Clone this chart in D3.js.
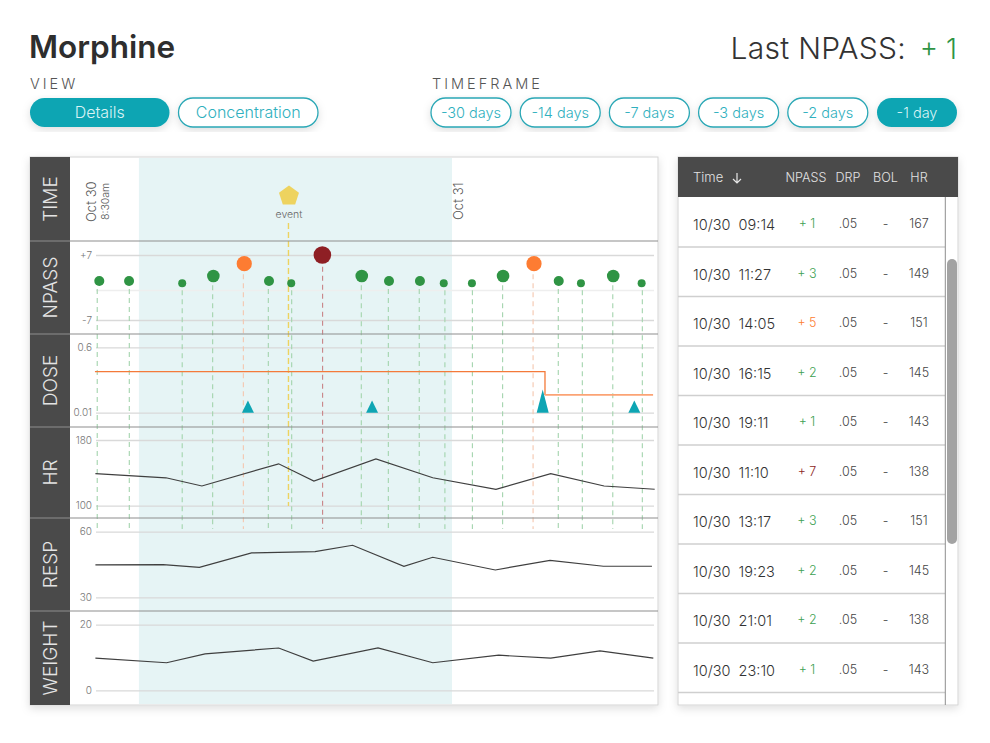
<!DOCTYPE html>
<html>
<head>
<meta charset="utf-8">
<title>Morphine</title>
<script src="https://cdn.jsdelivr.net/npm/d3@7"></script>
<style>
  body { margin: 0; background: #fff; }
  text { font-family: Inter, "Open Sans", sans-serif; }
  .tick line { stroke: #d9d9d9; }
  .tick text { fill: #777; font-size: 10px; font-weight: 300; }
</style>
</head>
<body>
<div id="chart"></div>
<script>
// all times are hours counted from midnight on Oct 30 (so 24 = Oct 31)
var npassTimes = [8.60, 9.90, 12.22, 13.58, 14.93, 16.01, 16.98, 18.34, 20.06, 21.25, 22.60, 23.64, 24.87, 26.23, 27.58, 28.66, 29.63, 31.04, 32.28];
var npassValues = [2, 2, 1, 3, 5, 2, 1, 7, 3, 2, 2, 1, 1, 3, 5, 2, 1, 3, 1];
var stemTimes = [8.51, 9.91, 12.22, 13.55, 14.89, 15.98, 17.00, 18.35, 20.04, 21.22, 22.57, 23.69, 24.89, 26.21, 27.54, 28.64, 29.69, 31.02, 32.31];

var doseTimes = [8.41, 28.06, 32.78];
var doseValues = [0.38, 0.17, 0.17];
var bolusTimes = [15.09, 20.51, 27.96, 31.96];
var bolusValues = [0.12, 0.12, 0.22, 0.12];

var hrTimes = [8.43, 11.51, 13.08, 16.43, 17.97, 20.68, 23.16, 25.92, 28.31, 30.64, 32.85];
var hrValues = [139, 134, 124, 151, 130, 157, 134, 120, 139, 124, 120];
var respTimes = [8.43, 11.39, 12.97, 15.25, 18.02, 19.66, 21.90, 23.16, 25.89, 28.28, 30.61, 32.73];
var respValues = [44.8, 44.9, 43.7, 50.3, 50.9, 53.8, 44.2, 48.3, 42.5, 46.9, 44.2, 44.2];
var weightTimes = [8.43, 11.54, 13.22, 16.43, 17.94, 20.77, 23.16, 26.04, 28.31, 30.46, 32.79];
var weightValues = [9.8, 8.4, 11.1, 12.9, 8.9, 12.9, 8.4, 10.7, 9.8, 12, 9.8];

var shadeStart = 10.33, shadeEnd = 24, eventTime = 16.86;

var rowLabels = ["TIME", "NPASS", "DOSE", "HR", "RESP", "WEIGHT"];
var viewButtons = ["Details", "Concentration"];
var frameButtons = ["-30 days", "-14 days", "-7 days", "-3 days", "-2 days", "-1 day"];

var tableTimes = ["09:14", "11:27", "14:05", "16:15", "19:11", "11:10", "13:17", "19:23", "21:01", "23:10"];
var tableNpass = [1, 3, 5, 2, 1, 7, 3, 2, 2, 1];
var tableHr = [167, 149, 151, 145, 143, 138, 151, 145, 138, 143];

var DARK = "#4a4a4a", TEAL = "#0ea5b3", GREEN = "#2f9444", ORANGE = "#fd7c32", RED = "#8e1f24";

var svg = d3.select("#chart").append("svg")
    .attr("width", 990).attr("height", 743)
    .style("display", "block");

// soft shadow used on the buttons and both panels
var defs = svg.append("defs");
defs.append("filter").attr("id", "shadow").attr("x", "-10%").attr("y", "-10%").attr("width", "120%").attr("height", "125%")
    .append("feDropShadow").attr("dx", 0).attr("dy", 3).attr("stdDeviation", 4).attr("flood-color", "#000").attr("flood-opacity", 0.13);

function label(parent, x, y, str, size, color, anchor, weight) {
    return parent.append("text")
        .attr("x", x).attr("y", y)
        .attr("font-size", size)
        .attr("fill", color)
        .attr("text-anchor", anchor || "start")
        .attr("font-weight", weight || 400)
        .text(str);
}

/* ---- header ---- */
label(svg, 29, 58, "Morphine", 31.5, "#2e2e2e", "start", 600);
label(svg, 906, 59, "Last NPASS:", 30, "#333", "end", 300).attr("letter-spacing", 0.3);
label(svg, 957, 59, "+ 1", 28, GREEN, "end", 300);
label(svg, 30, 89, "VIEW", 14.5, "#555", "start", 300).attr("letter-spacing", 3);
label(svg, 432, 89, "TIMEFRAME", 14.5, "#555", "start", 300).attr("letter-spacing", 3);

function drawButtons(names, lefts, width, activeName, fontSize) {
    var g = svg.append("g").selectAll("g").data(names).join("g")
        .attr("transform", function(d, i) { return "translate(" + lefts[i] + ",98)"; });
    g.append("rect")
        .attr("width", width).attr("height", 29).attr("rx", 14.5)
        .attr("fill", function(d) { return d === activeName ? TEAL : "#fff"; })
        .attr("stroke", function(d) { return d === activeName ? "none" : "#2aa7b5"; })
        .attr("stroke-width", 1.3)
        .attr("filter", "url(#shadow)");
    g.append("text")
        .attr("x", width / 2).attr("y", 20)
        .attr("text-anchor", "middle")
        .attr("font-size", fontSize)
        .attr("font-weight", 300)
        .attr("fill", function(d) { return d === activeName ? "#d9f3f5" : "#2fb0be"; })
        .text(function(d) { return d; });
}
drawButtons(viewButtons, d3.range(30, 200, 148.5), 139.5, "Details", 16);
drawButtons(frameButtons, d3.range(431, 900, 89.2), 80, "-1 day", 14.5);

/* ---- chart panel ---- */
var x = d3.scaleLinear().domain([8.5, 24]).range([97, 452]);
var gridLeft = 96, gridRight = 654;
var rowEdges = [157, 241, 334, 427, 518, 611, 705];

svg.append("rect").attr("x", 30).attr("y", 157).attr("width", 628).attr("height", 548)
    .attr("fill", "#fff").attr("stroke", "#d4d4d4").attr("filter", "url(#shadow)");
svg.append("rect").attr("x", x(shadeStart)).attr("y", 158)
    .attr("width", x(shadeEnd) - x(shadeStart)).attr("height", 546)
    .attr("fill", "#e6f4f5");
svg.append("rect").attr("x", 30).attr("y", 157).attr("width", 40).attr("height", 548).attr("fill", DARK);

// y scales. npass is not quite even on the picture so it gets a stepped domain
var yNpass = d3.scaleLinear().domain([-7, 0, 1, 2, 3, 5, 7]).range([320, 290, 283.3, 281, 276, 263.7, 255]);
var rNpass = d3.scaleLinear().domain([1, 2, 3, 5, 7]).range([4, 5, 6.3, 7.6, 8.8]);
var yDose = d3.scaleLinear().domain([0.01, 0.6]).range([412.7, 347.3]);
var yHr = d3.scaleLinear().domain([100, 180]).range([505.7, 440]);
var yResp = d3.scaleLinear().domain([30, 60]).range([597.3, 531.7]);
var yWeight = d3.scaleLinear().domain([0, 20]).range([690.3, 624.7]);

function drawAxis(scale, ticks, fmt) {
    var g = svg.append("g")
        .attr("transform", "translate(" + gridLeft + ",0)")
        .call(d3.axisLeft(scale).tickValues(ticks).tickFormat(fmt)
            .tickSize(-(gridRight - gridLeft)).tickPadding(4));
    g.select(".domain").remove();
    g.selectAll(".tick line").attr("stroke-width", 1.3);
    return g;
}
var npassAxis = drawAxis(yNpass, [-7, 0, 7], function(d) { return d === 0 ? "" : (d > 0 ? "+" + d : d); });
npassAxis.selectAll(".tick line").filter(function(d) { return d === 0; }).style("stroke", "#eeeeee");
drawAxis(yDose, [0.01, 0.6], function(d) { return d; });
drawAxis(yHr, [100, 180], function(d) { return d; });
drawAxis(yResp, [30, 60], function(d) { return d; });
drawAxis(yWeight, [0, 20], function(d) { return d; });

function npassColor(v) { return v >= 7 ? RED : v >= 5 ? ORANGE : GREEN; }
function stemColor(v) { return v >= 7 ? "#c98487" : v >= 5 ? "#f4c6ae" : "#a3d4ad"; }

// dashed drop lines under each npass reading
svg.append("g").selectAll("line").data(stemTimes).join("line")
    .attr("x1", function(d) { return x(d); })
    .attr("x2", function(d) { return x(d); })
    .attr("y1", function(d, i) { return yNpass(npassValues[i]) + rNpass(npassValues[i]) + 3; })
    .attr("y2", 529)
    .attr("stroke", function(d, i) { return stemColor(npassValues[i]); })
    .attr("stroke-width", 1.1)
    .attr("stroke-dasharray", "5 4");

// event marker
svg.append("line")
    .attr("x1", x(eventTime)).attr("x2", x(eventTime)).attr("y1", 223).attr("y2", 506)
    .attr("stroke", "#eed35f").attr("stroke-width", 1.4).attr("stroke-dasharray", "6 3");
var pentagon = d3.lineRadial().curve(d3.curveLinearClosed);
svg.append("path")
    .attr("d", pentagon(d3.range(5).map(function(i) { return [i * 2 * Math.PI / 5, 10.5]; })))
    .attr("transform", "translate(" + (x(eventTime) + 0.5) + ",196)")
    .attr("fill", "#eed35f");
label(svg, x(eventTime) + 0.5, 218, "event", 10.5, "#666", "middle", 300);

// row separators
svg.append("g").selectAll("line").data(rowEdges.slice(1, -1)).join("line")
    .attr("x1", 30).attr("x2", 658)
    .attr("y1", function(d) { return d; }).attr("y2", function(d) { return d; })
    .attr("stroke", "#8e8e8e").attr("stroke-width", 1.2);

// side labels
svg.append("g").selectAll("text").data(rowLabels).join("text")
    .attr("transform", function(d, i) {
        return "translate(57," + ((rowEdges[i] + rowEdges[i + 1]) / 2) + ") rotate(-90)";
    })
    .attr("text-anchor", "middle")
    .attr("font-size", 19)
    .attr("font-weight", 300)
    .attr("fill", "#e4e4e4")
    .text(function(d) { return d; });

// date labels
function vertical(px, yEnd, str, size) {
    svg.append("text")
        .attr("transform", "translate(" + px + "," + yEnd + ") rotate(-90)")
        .attr("font-size", size).attr("font-weight", 300).attr("fill", "#555")
        .text(str);
}
vertical(96, 222, "Oct 30", 13);
vertical(109, 220, "8:30am", 10.5);
vertical(463, 220, "Oct 31", 13);

// npass dots
svg.append("g").selectAll("circle").data(npassTimes).join("circle")
    .attr("cx", function(d) { return x(d); })
    .attr("cy", function(d, i) { return yNpass(npassValues[i]); })
    .attr("r", function(d, i) { return rNpass(npassValues[i]); })
    .attr("fill", function(d, i) { return npassColor(npassValues[i]); });

// dose rate line, the later stretch is lighter
var doseLine = d3.line()
    .x(function(d) { return x(d[0]); })
    .y(function(d) { return yDose(d[1]); })
    .curve(d3.curveStepAfter);
var dosePairs = d3.zip(doseTimes, doseValues);
svg.append("path").attr("d", doseLine(dosePairs.slice(0, 2)))
    .attr("fill", "none").attr("stroke", "#f47a3a").attr("stroke-width", 1.3);
svg.append("path").attr("d", doseLine(dosePairs.slice(1)))
    .attr("fill", "none").attr("stroke", "#fba374").attr("stroke-width", 1.8);

// bolus triangles
svg.append("g").selectAll("path").data(bolusTimes).join("path")
    .attr("d", function(d, i) {
        return d3.line()([[x(d) - 6, yDose(0.01)], [x(d), yDose(bolusValues[i])], [x(d) + 6, yDose(0.01)]]) + "Z";
    })
    .attr("fill", TEAL);

// hr, resp, weight
function drawTrend(times, values, scale) {
    var line = d3.line()
        .x(function(d) { return x(d[0]); })
        .y(function(d) { return scale(d[1]); });
    svg.append("path")
        .attr("d", line(d3.zip(times, values)))
        .attr("fill", "none").attr("stroke", "#3f3f3f").attr("stroke-width", 1.2);
}
drawTrend(hrTimes, hrValues, yHr);
drawTrend(respTimes, respValues, yResp);
drawTrend(weightTimes, weightValues, yWeight);

/* ---- table panel ---- */
svg.append("rect").attr("x", 678).attr("y", 157).attr("width", 280).attr("height", 548)
    .attr("fill", "#fff").attr("stroke", "#d4d4d4").attr("filter", "url(#shadow)");
svg.append("rect").attr("x", 678).attr("y", 157).attr("width", 280).attr("height", 40).attr("fill", DARK);

label(svg, 693, 182, "Time", 13, "#e2e2e2", "start", 300);
svg.append("path").attr("d", "M737 173V183M733 179L737 183L741 179")
    .attr("fill", "none").attr("stroke", "#e8e8e8").attr("stroke-width", 1.2);
label(svg, 806, 182, "NPASS", 12.6, "#e2e2e2", "middle", 300);
label(svg, 848, 182, "DRP", 12.6, "#e2e2e2", "middle", 300);
label(svg, 885.5, 182, "BOL", 12.6, "#e2e2e2", "middle", 300);
label(svg, 919, 182, "HR", 12.6, "#e2e2e2", "middle", 300);

var rowY = d3.scaleBand().domain(d3.range(tableTimes.length)).range([197.5, 692.5]);
var tableRows = svg.append("g").selectAll("g").data(tableTimes).join("g")
    .attr("transform", function(d, i) { return "translate(0," + rowY(i) + ")"; });

tableRows.append("text").attr("x", 693).attr("y", 32.5)
    .attr("font-size", 14.5).attr("font-weight", 300).attr("fill", "#333")
    .attr("xml:space", "preserve")
    .text(function(d) { return "10/30  " + d; });
tableRows.append("text").attr("x", 807).attr("y", 30.5)
    .attr("text-anchor", "middle").attr("font-size", 12.5).attr("font-weight", 300)
    .attr("fill", function(d, i) { return tableNpass[i] >= 7 ? RED : tableNpass[i] >= 5 ? ORANGE : "#3d9f52"; })
    .text(function(d, i) { return "+ " + tableNpass[i]; });
tableRows.append("text").attr("x", 848).attr("y", 30.5)
    .attr("text-anchor", "middle").attr("font-size", 12.5).attr("font-weight", 300).attr("fill", "#444")
    .text(".05");
tableRows.append("text").attr("x", 885.5).attr("y", 30.5)
    .attr("text-anchor", "middle").attr("font-size", 12.5).attr("font-weight", 300).attr("fill", "#444")
    .text("-");
tableRows.append("text").attr("x", 919).attr("y", 30.5)
    .attr("text-anchor", "middle").attr("font-size", 12.5).attr("font-weight", 300).attr("fill", "#444")
    .text(function(d, i) { return tableHr[i]; });
tableRows.append("line")
    .attr("x1", 678).attr("x2", 945).attr("y1", rowY.bandwidth()).attr("y2", rowY.bandwidth())
    .attr("stroke", "#cfcfcf").attr("stroke-width", 1.3);

// scrollbar
svg.append("line").attr("x1", 945.3).attr("x2", 945.3).attr("y1", 197).attr("y2", 705)
    .attr("stroke", "#8e8e8e").attr("stroke-width", 1);
svg.append("rect").attr("x", 947).attr("y", 259).attr("width", 10).attr("height", 285).attr("rx", 5)
    .attr("fill", "#a3a3a3");
</script>
</body>
</html>
